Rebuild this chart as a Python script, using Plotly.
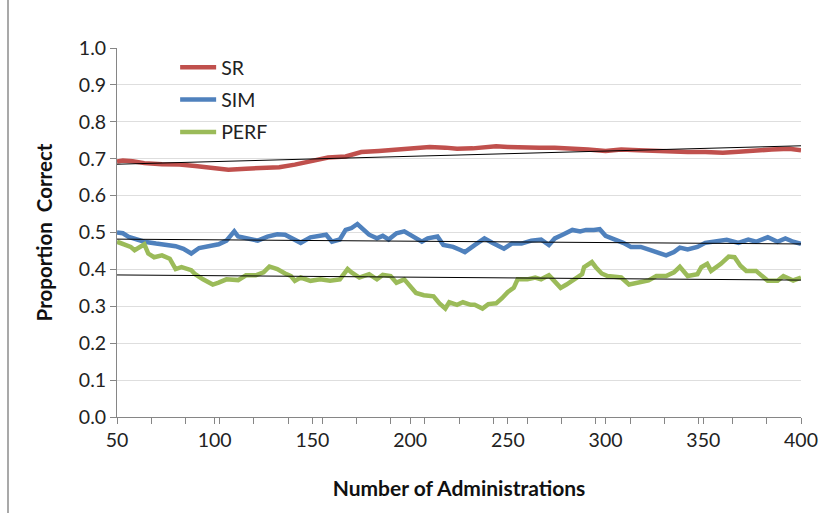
import plotly.graph_objects as go

# ---- data ----
sr_x = [50, 53, 58, 64, 73, 82, 90, 99, 107, 116, 124, 133, 141, 150, 158, 167, 175, 184,
        192, 201, 210, 218, 224, 232, 240, 244, 250, 257, 266, 274, 283, 291, 300, 308,
        317, 325, 334, 342, 351, 360, 368, 377, 385, 394, 400]
sr_y = [0.692, 0.695, 0.693, 0.688, 0.685, 0.684, 0.680, 0.675, 0.670, 0.673, 0.675, 0.677,
        0.684, 0.694, 0.703, 0.706, 0.718, 0.721, 0.724, 0.727, 0.732, 0.730, 0.727, 0.728,
        0.732, 0.734, 0.732, 0.730, 0.730, 0.730, 0.728, 0.725, 0.721, 0.725, 0.723, 0.721,
        0.719, 0.718, 0.718, 0.716, 0.719, 0.723, 0.725, 0.727, 0.723]

sim_x = [50, 53, 56, 60, 64, 70, 75, 80, 84, 88, 92, 97, 102, 106, 110, 112, 117, 122, 127,
         132, 136, 139, 144, 149, 154, 157, 160, 164, 167, 170, 173, 176, 179, 183, 186, 189,
         193, 197, 202, 206, 209, 214, 217, 222, 226, 228, 233, 238, 242, 248, 252, 257, 262,
         267, 271, 274, 278, 283, 287, 290, 294, 297, 300, 305, 309, 313, 318, 323, 328, 331,
         335, 338, 342, 347, 351, 356, 362, 368, 373, 377, 383, 388, 392, 396, 400]
sim_y = [0.500, 0.498, 0.488, 0.481, 0.475, 0.470, 0.466, 0.463, 0.456, 0.443, 0.458, 0.464,
         0.468, 0.478, 0.503, 0.489, 0.484, 0.478, 0.489, 0.495, 0.494, 0.487, 0.472, 0.487,
         0.491, 0.494, 0.475, 0.481, 0.507, 0.512, 0.523, 0.507, 0.494, 0.484, 0.491, 0.481,
         0.498, 0.503, 0.489, 0.475, 0.484, 0.489, 0.466, 0.461, 0.452, 0.447, 0.466, 0.484,
         0.472, 0.456, 0.470, 0.470, 0.478, 0.481, 0.466, 0.484, 0.494, 0.507, 0.503, 0.507,
         0.507, 0.509, 0.491, 0.481, 0.472, 0.461, 0.461, 0.452, 0.443, 0.438, 0.447, 0.459,
         0.454, 0.461, 0.472, 0.475, 0.480, 0.472, 0.481, 0.475, 0.487, 0.475, 0.484, 0.475,
         0.469]

perf_x = [50, 53, 57, 59, 62, 64, 66, 69, 73, 77, 80, 83, 88, 90, 94, 99, 102, 106, 112,
          116, 121, 125, 128, 132, 136, 139, 141, 144, 149, 154, 159, 164, 168, 170, 174,
          179, 183, 186, 190, 193, 197, 200, 203, 207, 212, 215, 218, 220, 224, 227, 231,
          233, 237, 240, 244, 247, 250, 253, 255, 260, 264, 267, 271, 273, 277, 280, 284,
          288, 289, 293, 295, 298, 301, 305, 308, 312, 317, 322, 326, 331, 335, 338, 342,
          347, 349, 352, 354, 359, 363, 366, 369, 372, 377, 380, 383, 388, 391, 396, 400]
perf_y = [0.475, 0.470, 0.461, 0.452, 0.461, 0.468, 0.443, 0.433, 0.438, 0.429, 0.401, 0.406,
          0.398, 0.387, 0.373, 0.359, 0.364, 0.373, 0.371, 0.384, 0.384, 0.392, 0.408, 0.401,
          0.389, 0.382, 0.369, 0.378, 0.369, 0.373, 0.369, 0.373, 0.401, 0.392, 0.378, 0.387,
          0.373, 0.385, 0.382, 0.364, 0.373, 0.355, 0.336, 0.330, 0.327, 0.308, 0.294, 0.311,
          0.304, 0.311, 0.304, 0.304, 0.294, 0.306, 0.308, 0.322, 0.339, 0.350, 0.373, 0.373,
          0.378, 0.373, 0.384, 0.373, 0.350, 0.359, 0.373, 0.387, 0.406, 0.420, 0.406, 0.389,
          0.382, 0.378, 0.378, 0.359, 0.364, 0.370, 0.382, 0.382, 0.392, 0.407, 0.382, 0.387,
          0.406, 0.415, 0.396, 0.415, 0.435, 0.433, 0.410, 0.396, 0.396, 0.382, 0.369, 0.369,
          0.382, 0.370, 0.378]

trend_x = [50, 400]
sr_trend = [0.685, 0.735]
sim_trend = [0.482, 0.469]
perf_trend = [0.385, 0.371]

x_ticks = [50, 100, 150, 200, 250, 300, 350, 400]
y_ticks = [0.0, 0.1, 0.2, 0.3, 0.4, 0.5, 0.6, 0.7, 0.8, 0.9, 1.0]

FONT = "Lato, 'Open Sans', sans-serif"
RED, BLUE, GREEN = "#c0504d", "#4f81bd", "#9bbb59"

fig = go.Figure()
for name, xs, ys, col in [("SR", sr_x, sr_y, RED), ("SIM", sim_x, sim_y, BLUE),
                          ("PERF", perf_x, perf_y, GREEN)]:
    fig.add_trace(go.Scatter(x=xs, y=ys, mode="lines", name=name, legendgroup=name,
                             line=dict(color=col, width=4.5)))
for tr in [sr_trend, sim_trend, perf_trend]:
    fig.add_trace(go.Scatter(x=trend_x, y=tr, mode="lines", showlegend=False,
                             line=dict(color="black", width=1)))

axis_common = dict(showline=True, linecolor="#868686", linewidth=1, ticks="outside",
                   tickcolor="#868686", ticklen=6,
                   tickfont=dict(family=FONT, size=19.5, color="#222"), zeroline=False)
fig.update_xaxes(range=[50, 400], tickvals=x_ticks, showgrid=False,
                 minor=dict(ticks="outside", dtick=17.5, tick0=50, ticklen=6, tickcolor="#868686"),
                 title=dict(text="<b>Number of Administrations</b>",
                            font=dict(family=FONT, size=21, color="#111"), standoff=30),
                 **axis_common)
fig.update_yaxes(range=[0, 1], tickvals=y_ticks, tickformat=".1f", showgrid=True,
                 gridcolor="#dedede", gridwidth=1,
                 title=dict(text="<b>Proportion&nbsp;&nbsp;Correct</b>",
                            font=dict(family=FONT, size=20.5, color="#111"), standoff=20),
                 **axis_common)

fig.update_layout(
    width=833, height=513,
    margin=dict(l=117, r=32, t=48, b=96),
    paper_bgcolor="white", plot_bgcolor="white",
    legend=dict(x=0.085, y=1.0, xanchor="left", yanchor="top",
                font=dict(family=FONT, size=19.5, color="#222"),
                bgcolor="rgba(0,0,0,0)", tracegroupgap=4, itemwidth=36),
    shapes=[
        dict(type="line", xref="paper", yref="paper", x0=(8 - 117) / 684, x1=(8 - 117) / 684,
             y0=-0.3, y1=1.2, line=dict(color="#8c8c8c", width=1.5)),
    ],
)

fig.write_html("out.html", config={"displayModeBar": False},
               post_script="document.body.style.margin='0';")
